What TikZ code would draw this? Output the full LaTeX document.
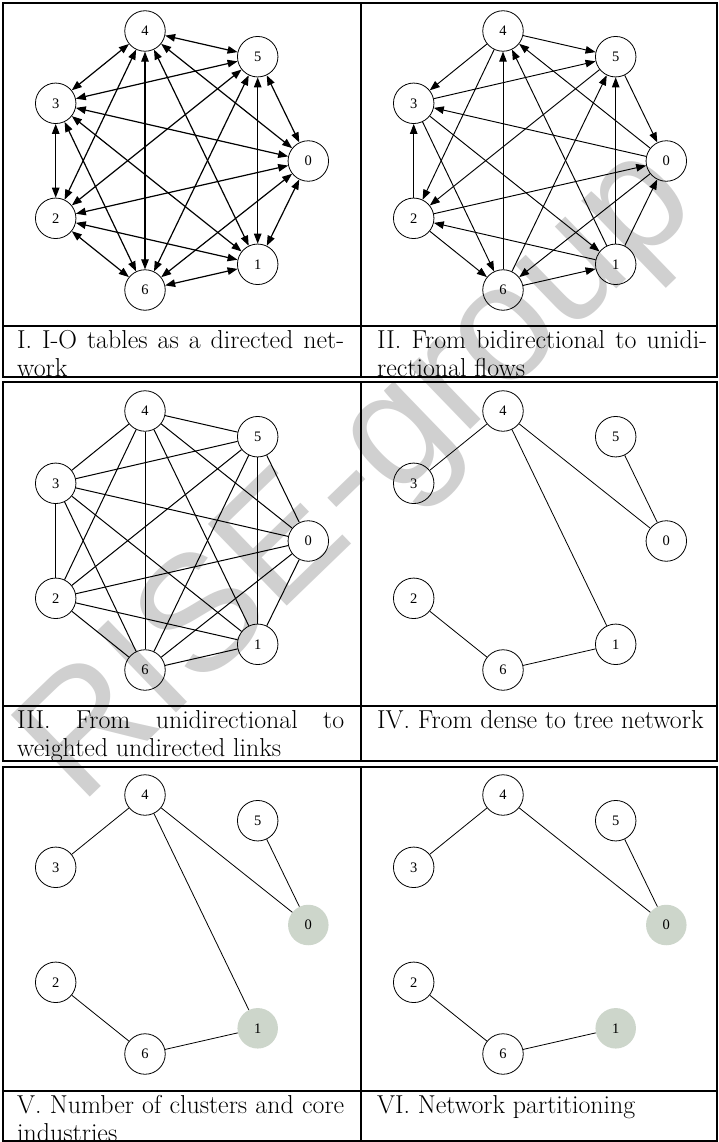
\documentclass[tikz,border=0pt]{standalone}
\usepackage{fontspec}
\newfontfamily\timesf{Liberation Serif}
\newfontfamily\wmfont{Liberation Sans}
\usetikzlibrary{arrows.meta}
\definecolor{coregreen}{RGB}{205,214,203}
\definecolor{wmgray}{RGB}{208,208,208}
\newcommand\graphnodes[3]{%
  \node[#2] (#1-0) at (308.3,161) {0};
  \node[#3] (#1-1) at (257.7,264.3) {1};
  \node[vtx] (#1-2) at (55.7,218.3) {2};
  \node[vtx] (#1-3) at (55.7,103.3) {3};
  \node[vtx] (#1-4) at (145,31) {4};
  \node[vtx] (#1-5) at (257.7,56.7) {5};
  \node[vtx] (#1-6) at (145,290) {6};
}
\begin{document}
\begin{tikzpicture}[x=1pt,y=-1pt,
  vtx/.style={circle,draw,line width=0.8pt,minimum size=40.5pt,inner sep=0pt,font=\timesf\fontsize{14.5}{14.5}\selectfont},
  core/.style={circle,fill=coregreen,minimum size=40.5pt,inner sep=0pt,font=\timesf\fontsize{14.5}{14.5}\selectfont},
  lnk/.style={line width=1pt},
  treelnk/.style={line width=0.8pt},
  bilnk/.style={line width=1.2pt,{Triangle[length=10pt,width=7.5pt]}-{Triangle[length=10pt,width=7.5pt]}},
  unilnk/.style={line width=0.95pt,-{Triangle[length=10pt,width=7.5pt]}},
  tblframe/.style={line width=1.2pt},
  captext/.style={anchor=base west,inner sep=0pt,font=\fontsize{25.9}{28}\selectfont},
  wmark/.style={text=wmgray,font=\wmfont\fontsize{165}{165}\selectfont,rotate=44,inner sep=0pt}]
\useasboundingbox (0,0) rectangle (719,1142);
\fill[white] (0,0) rectangle (719,1142);
% watermark
\node[wmark] (wm) at (362,478) {RISE-group};
% frames
\draw[tblframe] (3,3) rectangle (717,377) (361,3) -- (361,377) (3,326) -- (717,326);
\draw[tblframe] (3,382) rectangle (717,761) (361,382) -- (361,761) (3,706) -- (717,706);
\draw[tblframe] (3,767) rectangle (717,1141) (361,767) -- (361,1141) (3,1091) -- (717,1091);
% captions
\node[captext] (capI) at (17,348) {\parbox[t]{327pt}{I. I-O tables as a directed net-\linebreak work}};
\node[captext] (capII) at (377,348) {\parbox[t]{330pt}{II. From bidirectional to unidi-\linebreak rectional flows}};
\node[captext] (capIII) at (17,728) {\parbox[t]{327pt}{III. From unidirectional to\linebreak weighted undirected links}};
\node[captext] (capIV) at (377,728) {\parbox[t]{330pt}{IV. From dense to tree network}};
\node[captext] (capV) at (17,1113) {\parbox[t]{327pt}{V. Number of clusters and core\linebreak industries}};
\node[captext] (capVI) at (377,1113) {\parbox[t]{330pt}{VI. Network partitioning}};
% panel I
\begin{scope}
  \graphnodes{I}{vtx}{vtx}
  \foreach \a/\b in {4/5,4/3,4/2,4/6,4/1,4/0,5/3,5/2,5/6,5/1,5/0,3/0,3/2,3/6,3/1,0/2,0/6,0/1,2/1,2/6,6/1}
    \draw[bilnk] (I-\a) -- (I-\b);
\end{scope}
% panel II
\begin{scope}[shift={(358,0)}]
  \graphnodes{II}{vtx}{vtx}
  \foreach \a/\b in {4/5,4/3,4/2,6/4,1/4,0/4,3/5,5/2,6/5,1/5,5/0,0/3,2/3,3/6,3/1,2/0,0/6,1/0,1/2,2/6,6/1}
    \draw[unilnk] (II-\a) -- (II-\b);
\end{scope}
% panel III
\begin{scope}[shift={(0,380)}]
  \graphnodes{III}{vtx}{vtx}
  \foreach \a/\b in {4/5,4/3,4/2,4/6,4/1,4/0,5/3,5/2,5/6,5/1,5/0,3/0,3/2,3/6,3/1,0/2,0/6,0/1,2/1,2/6,6/1}
    \draw[lnk] (III-\a) -- (III-\b);
\end{scope}
% panel IV
\begin{scope}[shift={(358,380)}]
  \graphnodes{IV}{vtx}{vtx}
  \foreach \a/\b in {4/3,4/0,4/1,5/0,2/6,6/1}
    \draw[treelnk] (IV-\a) -- (IV-\b);
\end{scope}
% panel V
\begin{scope}[shift={(0,764)}]
  \graphnodes{V}{core}{core}
  \foreach \a/\b in {4/3,4/0,4/1,5/0,2/6,6/1}
    \draw[treelnk] (V-\a) -- (V-\b);
\end{scope}
% panel VI
\begin{scope}[shift={(358,764)}]
  \graphnodes{VI}{core}{core}
  \foreach \a/\b in {4/3,4/0,5/0,2/6,6/1}
    \draw[treelnk] (VI-\a) -- (VI-\b);
\end{scope}
\end{tikzpicture}
\end{document}
